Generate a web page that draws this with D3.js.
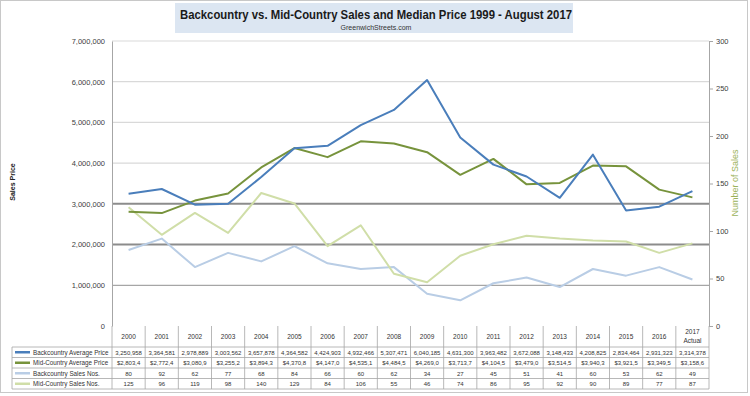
<!DOCTYPE html>
<html>
<head>
<meta charset="utf-8">
<script src="https://cdn.jsdelivr.net/npm/d3@7"></script>
<style>
  body { margin: 0; background: #fff; }
  text { font-family: "Liberation Sans", Arial, sans-serif; }
</style>
</head>
<body>
<div id="chart"></div>
<script>
// data
const years = ["2000","2001","2002","2003","2004","2005","2006","2007","2008","2009",
               "2010","2011","2012","2013","2014","2015","2016","2017 Actual"];
const backPrice = [3250958,3364581,2978889,3003562,3657878,4364582,4424903,4932466,5307471,
                   6040185,4631300,3963482,3672088,3148433,4208825,2834464,2931323,3314378];
const midPrice = [2803400,2772400,3080900,3255200,3894300,4370800,4147000,4535100,4484500,
                  4269000,3713700,4104500,3479000,3514500,3940300,3921500,3349500,3158600];
const backSales = [80,92,62,77,68,84,66,60,62,34,27,45,51,41,60,53,62,49];
const midSales = [125,96,119,98,140,129,84,106,55,46,74,86,95,92,90,89,77,87];
const priceTicks = [0,1000000,2000000,3000000,4000000,5000000,6000000,7000000];
const salesTicks = [0,50,100,150,200,250,300];

const series = [
  {name: "Backcountry Average Price", values: backPrice, axis: "left", color: "#4a7ebb",
   fmt: d => d3.format(",")(d)},
  {name: "Mid-Country Average Price", values: midPrice, axis: "left", color: "#77933c",
   fmt: d => "$" + d3.format(",")(d).slice(0, -2)},
  {name: "Backcountry Sales Nos.", values: backSales, axis: "right", color: "#b9cde5",
   fmt: d => d},
  {name: "Mid-Country Sales Nos.", values: midSales, axis: "right", color: "#d0dea8",
   fmt: d => d}
];

const width = 750, height = 396;
const plot = {left: 112, right: 709, top: 41, bottom: 326};

const svg = d3.select("#chart").append("svg")
  .attr("width", width)
  .attr("height", height);

// outer frame
svg.append("rect")
  .attr("x", 0.5).attr("y", 0.5)
  .attr("width", 747).attr("height", 392)
  .attr("fill", "#fff").attr("stroke", "#c8c8c8");

// title box
svg.append("rect")
  .attr("x", 175).attr("y", 3)
  .attr("width", 398).attr("height", 30)
  .attr("fill", "#dce6f2");
svg.append("text")
  .attr("x", 376).attr("y", 19)
  .attr("text-anchor", "middle")
  .attr("font-family", "Lato, 'Open Sans', sans-serif")
  .attr("font-weight", "bold").attr("font-size", 13)
  .attr("textLength", 392).attr("lengthAdjust", "spacingAndGlyphs")
  .attr("fill", "#1a1a1a")
  .text("Backcountry vs. Mid-Country Sales and Median Price 1999 - August 2017");
svg.append("text")
  .attr("x", 376).attr("y", 30)
  .attr("text-anchor", "middle")
  .attr("font-size", 7).attr("fill", "#333")
  .text("GreenwichStreets.com");

// scales
const x = d3.scaleBand().domain(years).range([plot.left, plot.right]);
const yL = d3.scaleLinear().domain([0, 7000000]).range([plot.bottom, plot.top]);
const yR = d3.scaleLinear().domain([0, 300]).range([plot.bottom, plot.top]);

// gridlines (2M and 3M drawn heavier as in the original)
svg.append("g").selectAll("line")
  .data(priceTicks.filter(d => d > 0))
  .enter().append("line")
  .attr("x1", plot.left).attr("x2", plot.right)
  .attr("y1", d => yL(d)).attr("y2", d => yL(d))
  .attr("stroke", d => (d === 2000000 || d === 3000000) ? "#8c8c8c" : (d === 1000000 ? "#a6a6a6" : "#d9d9d9"))
  .attr("stroke-width", d => (d === 2000000 || d === 3000000) ? 2 : 1.2);

// left axis
const leftAxis = svg.append("g")
  .attr("transform", `translate(${plot.left},0)`)
  .call(d3.axisLeft(yL).tickValues(priceTicks).tickFormat(d3.format(",")).tickSize(0).tickPadding(7));
leftAxis.select(".domain").attr("stroke", "#a6a6a6");
leftAxis.selectAll("text").attr("font-size", 7.5).attr("fill", "#404040");

// right axis
const rightAxis = svg.append("g")
  .attr("transform", `translate(${plot.right},0)`)
  .call(d3.axisRight(yR).tickValues(salesTicks).tickSize(4).tickPadding(3));
rightAxis.select(".domain").attr("stroke", "#a6a6a6");
rightAxis.selectAll(".tick line").attr("stroke", "#a6a6a6");
rightAxis.selectAll("text").attr("font-size", 7.5).attr("fill", "#404040");

// axis titles
svg.append("text")
  .attr("transform", "translate(15,182) rotate(-90)")
  .attr("text-anchor", "middle")
  .attr("font-size", 7).attr("font-weight", "bold").attr("fill", "#222")
  .text("Sales Price");
svg.append("text")
  .attr("transform", "translate(738,183) rotate(-90)")
  .attr("text-anchor", "middle")
  .attr("font-size", 9).attr("fill", "#9bb25a")
  .text("Number of Sales");

// lines (sales drawn first, prices on top)
const lineFor = s => d3.line()
  .x((d, i) => x(years[i]) + x.bandwidth() / 2)
  .y(d => s.axis === "left" ? yL(d) : yR(d));

svg.append("g").selectAll("path")
  .data([series[2], series[3], series[1], series[0]])
  .enter().append("path")
  .attr("d", s => lineFor(s)(s.values))
  .attr("fill", "none")
  .attr("stroke", s => s.color)
  .attr("stroke-width", 2)
  .attr("stroke-linejoin", "round");

// data table
const headTop = plot.bottom, headBottom = 347, rowH = 10.5;
const tableLeft = 12;
const tbl = svg.append("g");
const grid = "#a6a6a6";

// header column dividers
tbl.selectAll("line.hv")
  .data(d3.range(years.length + 1))
  .enter().append("line")
  .attr("class", "hv")
  .attr("x1", i => plot.left + i * x.step()).attr("x2", i => plot.left + i * x.step())
  .attr("y1", headTop).attr("y2", headBottom + rowH * series.length)
  .attr("stroke", grid).attr("stroke-width", 0.8);

// row lines
tbl.selectAll("line.hr")
  .data(d3.range(series.length + 1))
  .enter().append("line")
  .attr("class", "hr")
  .attr("x1", tableLeft).attr("x2", plot.right)
  .attr("y1", i => headBottom + i * rowH).attr("y2", i => headBottom + i * rowH)
  .attr("stroke", grid).attr("stroke-width", 0.8);
tbl.append("line")
  .attr("x1", tableLeft).attr("x2", tableLeft)
  .attr("y1", headBottom).attr("y2", headBottom + rowH * series.length)
  .attr("stroke", grid).attr("stroke-width", 0.8);

// header labels
years.forEach(yr => {
  const parts = yr.split(" ");
  const t = tbl.append("text")
    .attr("x", x(yr) + x.bandwidth() / 2)
    .attr("text-anchor", "middle")
    .attr("font-size", 6.5).attr("fill", "#333");
  if (parts.length === 1) {
    t.attr("y", 339).text(yr);
  } else {
    t.append("tspan").attr("x", x(yr) + x.bandwidth() / 2).attr("y", 334).text(parts[0]);
    t.append("tspan").attr("x", x(yr) + x.bandwidth() / 2).attr("y", 343).text(parts[1]);
  }
});

// rows
series.forEach((s, r) => {
  const cy = headBottom + r * rowH + rowH / 2;
  tbl.append("line")
    .attr("x1", 15).attr("x2", 30)
    .attr("y1", cy).attr("y2", cy)
    .attr("stroke", s.color).attr("stroke-width", 2.5);
  tbl.append("text")
    .attr("x", 33).attr("y", cy + 2.3)
    .attr("font-size", 6.3).attr("fill", "#333")
    .text(s.name);
  s.values.forEach((v, i) => {
    tbl.append("text")
      .attr("x", x(years[i]) + x.bandwidth() / 2).attr("y", cy + 2.3)
      .attr("text-anchor", "middle")
      .attr("font-size", 6).attr("fill", "#333")
      .text(s.fmt(v));
  });
});
</script>
</body>
</html>
